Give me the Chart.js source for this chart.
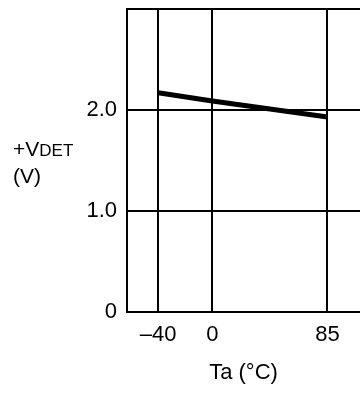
<!DOCTYPE html>
<html>
<head>
<meta charset="utf-8">
<script src="https://cdn.jsdelivr.net/npm/chart.js@4"></script>
<style>
body { margin: 0; background: #fff; }
#wrap { position: relative; width: 360px; height: 393px; }
#ylab { position: absolute; left: 13px; top: 136px; font: 21px "Liberation Sans", Arial, sans-serif; line-height: 25px; color: #000; }
#ylab span { font-size: 17px; }
</style>
</head>
<body>
<div id="wrap">
  <canvas id="chart" width="360" height="393"></canvas>
  <div id="ylab">+V<span>DET</span><br>(V)</div>
</div>
<script>
const temps = [-40, 0, 85];
const vdet = [2.17, 2.09, 1.93];
const xTicks = [-40, 0, 85];
const xTickLabels = ['–40', '0', '85'];
const yTicks = [0, 1, 2, 3];
const yTickLabels = ['0', '1.0', '2.0', ''];

const font = { family: '"Liberation Sans", Arial, sans-serif', size: 22 };

new Chart(document.getElementById('chart'), {
    type: 'line',
    data: {
        datasets: [{
            data: temps.map((t, i) => ({ x: t, y: vdet[i] })),
            borderColor: '#000',
            borderWidth: 5,
            pointRadius: 0,
            tension: 0
        }]
    },
    options: {
        responsive: false,
        animation: false,
        devicePixelRatio: 1,
        layout: { padding: { top: 9, left: 0, right: 0, bottom: 0 } },
        plugins: { legend: { display: false }, tooltip: { enabled: false } },
        scales: {
            x: {
                type: 'linear',
                min: -63,
                max: 109,
                afterBuildTicks: scale => { scale.ticks = xTicks.map(v => ({ value: v })); },
                afterFit: scale => { scale.height = 81; scale.paddingLeft = 0; scale.paddingRight = 0; },
                grid: { color: '#000', lineWidth: 2, drawTicks: false },
                border: { display: true, color: '#000', width: 2 },
                ticks: {
                    color: '#000',
                    font: font,
                    padding: 10,
                    maxRotation: 0,
                    callback: v => xTickLabels[xTicks.indexOf(v)]
                },
                title: {
                    display: true,
                    text: 'Ta (°C)',
                    color: '#000',
                    font: font,
                    padding: { top: 0, bottom: 7 }
                }
            },
            y: {
                min: 0,
                max: 3,
                afterBuildTicks: scale => { scale.ticks = yTicks.map(v => ({ value: v })); },
                afterFit: scale => { scale.width = 127; scale.paddingTop = 0; scale.paddingBottom = 0; },
                grid: { color: '#000', lineWidth: 2, drawTicks: false },
                border: { display: true, color: '#000', width: 2 },
                ticks: {
                    color: '#000',
                    font: font,
                    padding: 10,
                    callback: v => yTickLabels[yTicks.indexOf(v)]
                }
            }
        }
    }
});
</script>
</body>
</html>
